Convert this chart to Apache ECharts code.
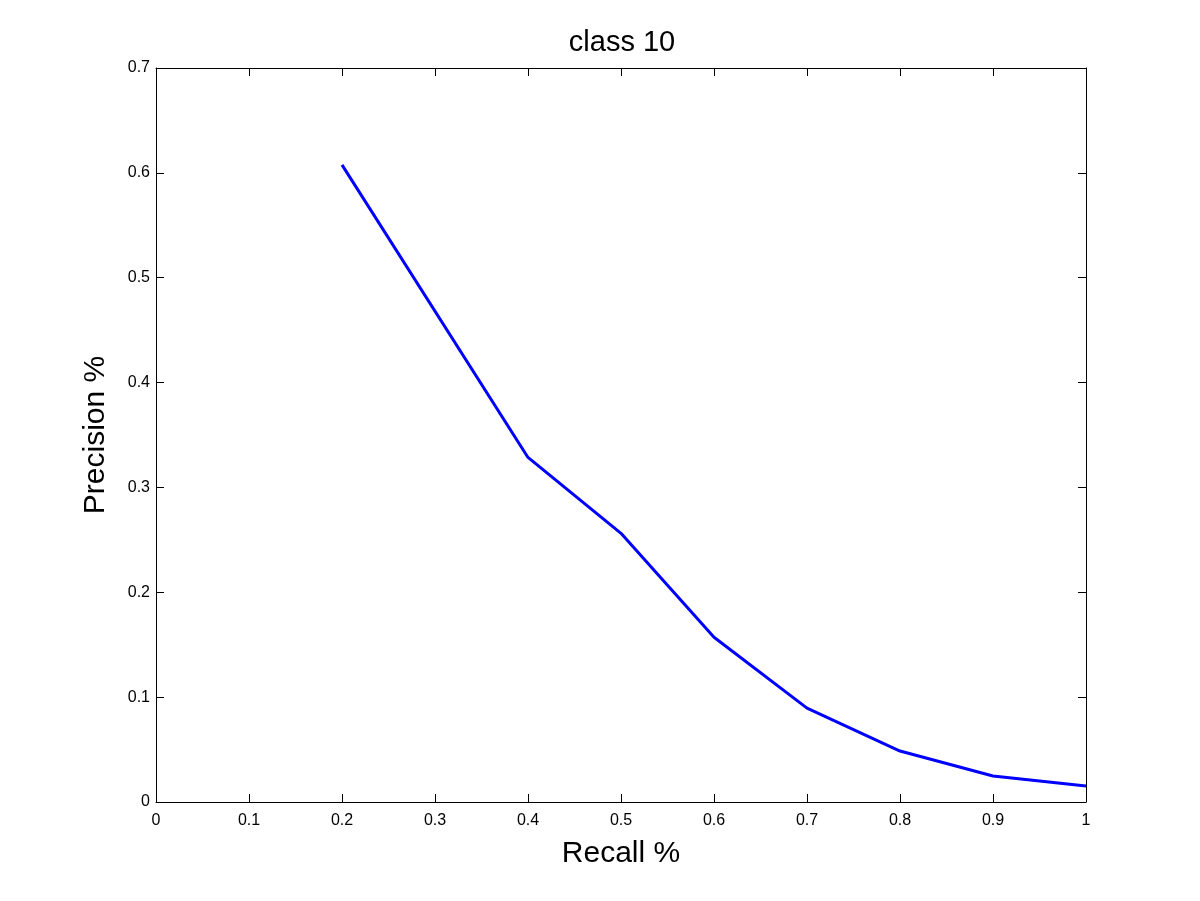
<!DOCTYPE html>
<html>
<head>
<meta charset="utf-8">
<script src="https://cdn.jsdelivr.net/npm/echarts@6/dist/echarts.min.js"></script>
<style>html,body{margin:0;padding:0;background:#fff;}#c{width:1200px;height:901px;}</style>
</head>
<body>
<div id="c"></div>
<script>
const recall = [0.2, 0.4, 0.5, 0.6, 0.7, 0.8, 0.9, 1.0];
const precision = [0.6076, 0.3286, 0.2562, 0.1571, 0.0895, 0.0486, 0.0248, 0.0152];
const titleText = 'class 10';
const xName = 'Recall %';
const yName = 'Precision %';

const font = 'Liberation Sans, Arial, Helvetica, sans-serif';
const chart = echarts.init(document.getElementById('c'), null, {renderer: 'canvas'});
const axisBase = {
  axisLine: {show: true, onZero: false, lineStyle: {color: '#000', width: 1}},
  axisTick: {show: true, inside: true, length: 8, lineStyle: {color: '#000', width: 1}},
  splitLine: {show: false},
  axisLabel: {color: '#000', fontSize: 16, fontFamily: font},
};
chart.setOption({
  backgroundColor: '#fff',
  animation: false,
  title: {
    text: titleText, left: 617, textAlign: 'center', top: 23,
    textStyle: {fontSize: 29, fontWeight: 'normal', color: '#000', fontFamily: font}
  },
  grid: {left: 156, right: 114, top: 68, bottom: 99, containLabel: false},
  xAxis: [
    Object.assign({}, axisBase, {
      type: 'value', min: 0, max: 1, interval: 0.1, position: 'bottom',
      name: xName, nameLocation: 'middle', nameGap: 37,
      nameTextStyle: {fontSize: 30, color: '#000', fontFamily: font},
      axisLabel: Object.assign({}, axisBase.axisLabel, {margin: 11})
    }),
    Object.assign({}, axisBase, {
      type: 'value', min: 0, max: 1, interval: 0.1, position: 'top',
      axisLabel: {show: false}
    })
  ],
  yAxis: [
    Object.assign({}, axisBase, {
      type: 'value', min: 0, max: 0.7, interval: 0.1, position: 'left',
      name: yName, nameLocation: 'middle', nameGap: 45, nameRotate: 90,
      nameTextStyle: {fontSize: 30, color: '#000', fontFamily: font},
      axisLabel: Object.assign({}, axisBase.axisLabel, {margin: 6})
    }),
    Object.assign({}, axisBase, {
      type: 'value', min: 0, max: 0.7, interval: 0.1, position: 'right',
      axisLabel: {show: false}
    })
  ],
  series: [{
    type: 'line',
    data: recall.map((r, i) => [r, precision[i]]),
    showSymbol: false,
    symbol: 'none',
    lineStyle: {color: '#0000ff', width: 3},
    itemStyle: {color: '#0000ff'}
  }]
});
</script>
</body>
</html>
